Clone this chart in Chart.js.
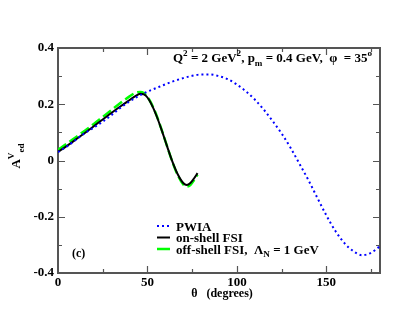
<!DOCTYPE html>
<html>
<head>
<meta charset="utf-8">
<script src="https://cdn.jsdelivr.net/npm/chart.js@4"></script>
<style>
  html, body { margin: 0; padding: 0; background: #fff; }
  canvas { display: block; }
</style>
</head>
<body>
<canvas id="chart" width="417" height="322"></canvas>
<script>
// PWIA curve (blue dotted)
const pwiaTheta = [0, 5, 10, 15, 20, 25, 30, 35, 40, 45, 50, 55, 60, 65, 70, 75, 80, 85, 90,
                   95, 100, 105, 110, 115, 120, 125, 130, 135, 140, 145, 150, 155, 160, 165, 170, 175, 180];
const pwiaA = [0.030, 0.050, 0.074, 0.097, 0.117, 0.138, 0.162, 0.188, 0.210, 0.229, 0.245, 0.258,
               0.271, 0.283, 0.293, 0.301, 0.306, 0.306, 0.300, 0.289, 0.270, 0.246, 0.217, 0.181,
               0.140, 0.096, 0.045, -0.012, -0.070, -0.133, -0.195, -0.250, -0.293, -0.322, -0.337,
               -0.328, -0.305];

// FSI curves
const fsiTheta = [0, 5, 10, 15, 20, 25, 30, 35, 40, 43, 46, 48, 50, 52, 55, 58, 61, 64, 67, 70, 72, 74, 76, 78];
const onShellA = [0.031, 0.052, 0.075, 0.098, 0.122, 0.146, 0.170, 0.193, 0.215, 0.228, 0.237, 0.235,
                  0.224, 0.203, 0.160, 0.107, 0.050, -0.005, -0.050, -0.080, -0.087, -0.080, -0.064, -0.045];
const offShellA = [0.038, 0.060, 0.083, 0.106, 0.130, 0.155, 0.180, 0.205, 0.228, 0.240, 0.244, 0.240,
                   0.226, 0.205, 0.162, 0.108, 0.050, -0.006, -0.053, -0.085, -0.093, -0.087, -0.070, -0.050];

const xMin = 0, xMax = 180, xTickStep = 25, xLabelStep = 50;
const yMin = -0.4, yMax = 0.4, yTickStep = 0.1;

const FONT = '"Liberation Serif", "Times New Roman", serif';
const frameBorder = { display: true, color: '#555555', width: 2 };

function pts(xs, ys) {
    return xs.map((x, i) => ({ x: x, y: ys[i] }));
}

// text with sub/superscripts; segs = [[text, 'sup'|'sub'|''], ...]
function richWidth(ctx, segs, size) {
    let w = 0;
    segs.forEach(s => {
        ctx.font = 'bold ' + (s[1] ? size * 0.7 : size) + 'px ' + FONT;
        w += ctx.measureText(s[0]).width;
    });
    return w;
}
function drawRich(ctx, segs, x, y, size) {
    let cx = x;
    ctx.textBaseline = 'alphabetic';
    ctx.textAlign = 'left';
    segs.forEach(s => {
        let dy = 0, sz = size;
        if (s[1] === 'sup') { sz = size * 0.7; dy = -size * 0.45; }
        if (s[1] === 'sub') { sz = size * 0.7; dy = size * 0.3; }
        ctx.font = 'bold ' + sz + 'px ' + FONT;
        ctx.fillText(s[0], cx, y + dy);
        cx += ctx.measureText(s[0]).width;
    });
}

// inward ticks on all four sides
const tickPlugin = {
    id: 'inticks',
    afterDraw(chart) {
        const ctx = chart.ctx;
        const a = chart.chartArea || {};
        const L = Number.isFinite(a.left) ? a.left : chart.scales.x.left;
        const R = Number.isFinite(a.right) ? a.right : chart.scales.x.right;
        const T = Number.isFinite(a.top) ? a.top : chart.scales.y.top;
        const B = Number.isFinite(a.bottom) ? a.bottom : chart.scales.y.bottom;
        const px = v => L + (v - xMin) / (xMax - xMin) * (R - L);
        const py = v => B - (v - yMin) / (yMax - yMin) * (B - T);
        ctx.save();
        ctx.strokeStyle = '#555555';
        ctx.lineWidth = 1.2;
        for (let v = xMin + xTickStep; v < xMax; v += xTickStep) {
            const x = Math.round(px(v)) + 0.5;
            const len = v % xLabelStep === 0 ? 7 : 4;
            ctx.beginPath();
            ctx.moveTo(x, B); ctx.lineTo(x, B - len);
            ctx.moveTo(x, T); ctx.lineTo(x, T + len);
            ctx.stroke();
        }
        for (let k = -3; k <= 3; k++) {
            const y = Math.round(py(k * yTickStep)) + 0.5;
            const len = k % 2 === 0 ? 7 : 4;
            ctx.beginPath();
            ctx.moveTo(L, y); ctx.lineTo(L + len, y);
            ctx.moveTo(R, y); ctx.lineTo(R - len, y);
            ctx.stroke();
        }
        ctx.restore();
    }
};

// labels, legend and axis titles
const textPlugin = {
    id: 'texts',
    afterDraw(chart) {
        const ctx = chart.ctx;
        ctx.save();
        ctx.fillStyle = '#000';

        const kin = [['Q', ''], ['2', 'sup'], [' = 2 GeV', ''], ['2', 'sup'], [', p', ''], ['m', 'sub'],
                     [' = 0.4 GeV,  \u03C6  = 35', ''], ['o', 'sup']];
        const kw = richWidth(ctx, kin, 13);
        drawRich(ctx, kin, 372 - kw, 62, 13);

        ctx.font = 'bold 12px ' + FONT;
        ctx.fillText('(c)', 72, 257);

        const rows = [
            { y: 226, color: '#0000ff', dash: [2, 3], w: 2, segs: [['PWIA', '']] },
            { y: 237.5, color: '#000000', dash: [], w: 2, segs: [['on-shell FSI', '']] },
            { y: 249, color: '#00ff00', dash: [], w: 2.5, segs: [['off-shell FSI,  \u039B', ''], ['N', 'sub'], [' = 1 GeV', '']] }
        ];
        rows.forEach(r => {
            ctx.strokeStyle = r.color;
            ctx.lineWidth = r.w;
            ctx.setLineDash(r.dash);
            ctx.beginPath();
            ctx.moveTo(157, r.y); ctx.lineTo(170, r.y);
            ctx.stroke();
            ctx.setLineDash([]);
            drawRich(ctx, r.segs, 176, r.y + 4.5, 13);
        });

        ctx.font = 'bold 12px ' + FONT;
        ctx.textAlign = 'center';
        ctx.fillText('\u03B8   (degrees)', 222, 297);

        ctx.translate(20, 156);
        ctx.rotate(-Math.PI / 2);
        const yt = [['A', ''], ['V', 'sup'], ['ed', 'sub']];
        const yw = richWidth(ctx, yt, 13);
        drawRich(ctx, yt, -yw / 2, 0, 13);
        ctx.restore();
    }
};

new Chart(document.getElementById('chart'), {
    type: 'line',
    data: {
        datasets: [
            {
                label: 'PWIA',
                data: pts(pwiaTheta, pwiaA),
                borderColor: '#0000ff',
                borderWidth: 2,
                borderDash: [2, 3],
                pointRadius: 0,
                cubicInterpolationMode: 'monotone'
            },
            {
                label: 'on-shell FSI',
                data: pts(fsiTheta, onShellA),
                borderColor: '#000000',
                borderWidth: 2,
                pointRadius: 0,
                cubicInterpolationMode: 'monotone'
            },
            {
                label: 'off-shell FSI',
                data: pts(fsiTheta, offShellA),
                borderColor: '#00ff00',
                borderWidth: 2.5,
                borderDash: [10, 4],
                pointRadius: 0,
                cubicInterpolationMode: 'monotone'
            }
        ]
    },
    options: {
        responsive: false,
        animation: false,
        devicePixelRatio: 1,
        layout: { padding: { left: 0, top: 48, right: 37, bottom: 0 } },
        plugins: { legend: { display: false }, tooltip: { enabled: false } },
        scales: {
            x: {
                type: 'linear',
                min: xMin, max: xMax,
                grid: { display: false, drawTicks: false },
                border: frameBorder,
                afterFit(s) { s.height = 49; },
                ticks: {
                    stepSize: xTickStep,
                    autoSkip: false,
                    maxRotation: 0,
                    padding: 2,
                    color: '#000',
                    font: { family: FONT, size: 13, weight: 'bold' },
                    callback: v => (v % xLabelStep === 0 && v < xMax) ? String(v) : ''
                }
            },
            xTop: {
                type: 'linear',
                position: 'top',
                min: xMin, max: xMax,
                grid: { display: false, drawTicks: false },
                border: frameBorder,
                ticks: { display: false },
                afterFit(s) { s.height = 0; }
            },
            y: {
                min: yMin, max: yMax,
                grid: { display: false, drawTicks: false },
                border: frameBorder,
                afterFit(s) { s.width = 58; },
                ticks: {
                    stepSize: yTickStep,
                    autoSkip: false,
                    padding: 4,
                    color: '#000',
                    font: { family: FONT, size: 13, weight: 'bold' },
                    callback: v => {
                        const k = Math.round(v * 10);
                        if (k % 2 !== 0) return '';
                        return k === 0 ? '0' : (k / 10).toFixed(1);
                    }
                }
            },
            yRight: {
                type: 'linear',
                position: 'right',
                min: yMin, max: yMax,
                grid: { display: false, drawTicks: false },
                border: frameBorder,
                ticks: { display: false },
                afterFit(s) { s.width = 0; }
            }
        }
    },
    plugins: [tickPlugin, textPlugin]
});
</script>
</body>
</html>
